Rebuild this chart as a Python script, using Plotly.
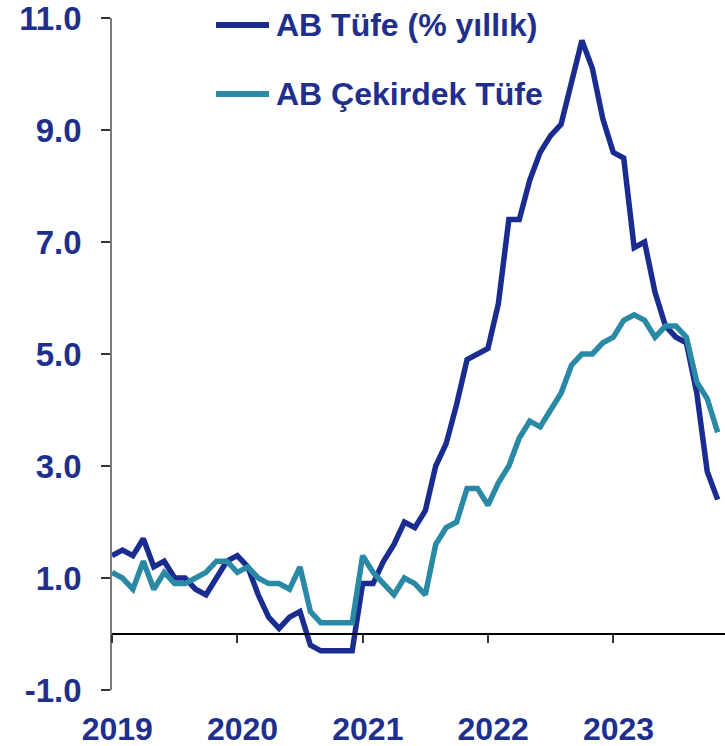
import plotly.graph_objects as go

# Monthly data Jan 2019 – Nov 2023
months = list(range(59))
headline = [1.4, 1.5, 1.4, 1.7, 1.2, 1.3, 1.0, 1.0, 0.8, 0.7, 1.0, 1.3,
            1.4, 1.2, 0.7, 0.3, 0.1, 0.3, 0.4, -0.2, -0.3, -0.3, -0.3, -0.3,
            0.9, 0.9, 1.3, 1.6, 2.0, 1.9, 2.2, 3.0, 3.4, 4.1, 4.9, 5.0,
            5.1, 5.9, 7.4, 7.4, 8.1, 8.6, 8.9, 9.1, 9.9, 10.6, 10.1, 9.2,
            8.6, 8.5, 6.9, 7.0, 6.1, 5.5, 5.3, 5.2, 4.3, 2.9, 2.4]
core = [1.1, 1.0, 0.8, 1.3, 0.8, 1.1, 0.9, 0.9, 1.0, 1.1, 1.3, 1.3,
        1.1, 1.2, 1.0, 0.9, 0.9, 0.8, 1.2, 0.4, 0.2, 0.2, 0.2, 0.2,
        1.4, 1.1, 0.9, 0.7, 1.0, 0.9, 0.7, 1.6, 1.9, 2.0, 2.6, 2.6,
        2.3, 2.7, 3.0, 3.5, 3.8, 3.7, 4.0, 4.3, 4.8, 5.0, 5.0, 5.2,
        5.3, 5.6, 5.7, 5.6, 5.3, 5.5, 5.5, 5.3, 4.5, 4.2, 3.6]
series_names = ["AB Tüfe (% yıllık)", "AB Çekirdek Tüfe"]
year_labels = ["2019", "2020", "2021", "2022", "2023"]
year_ticks = [0, 12, 24, 36, 48]
y_ticks = [-1, 1, 3, 5, 7, 9, 11]
y_tick_labels = ["-1.0", "1.0", "3.0", "5.0", "7.0", "9.0", "11.0"]

NAVY = "#1b2c91"
TEAL = "#2a8aa6"
TEXT = "#1e2f8e"
FONT = "Liberation Sans"

W, H = 725, 746
L, R, T, B = 112, 0, 18, 56
PW, PH = W - L - R, H - T - B


def px(x):
    return (x - L) / PW


def py(y):
    return (H - B - y) / PH


xtickfont = dict(family=FONT, size=32, color=TEXT, weight="bold")
ytickfont = dict(family=FONT, size=33, color=TEXT, weight="bold")

fig = go.Figure()
fig.add_trace(go.Scatter(x=months, y=headline, mode="lines", name=series_names[0],
                         line=dict(color=NAVY, width=5.5), showlegend=False))
fig.add_trace(go.Scatter(x=months, y=core, mode="lines", name=series_names[1],
                         line=dict(color=TEAL, width=5.5), showlegend=False))

fig.update_layout(
    width=W, height=H,
    margin=dict(l=L, r=R, t=T, b=B, pad=0, autoexpand=False),
    paper_bgcolor="white", plot_bgcolor="white",
    font=dict(family=FONT, color=TEXT, size=32),
    xaxis=dict(range=[0, 58.7], tickvals=[v + 0.5 for v in year_ticks], ticktext=year_labels,
               showline=False, ticks="", showgrid=False, zeroline=False, automargin=False,
               tickfont=xtickfont, ticklabelstandoff=17, ticklabeloverflow="allow"),
    xaxis2=dict(range=[0, 58.7], overlaying="x", anchor="free", position=1 / 12,
                tickvals=year_ticks, showticklabels=False, showline=True,
                linecolor="black", linewidth=1.5, ticks="outside", ticklen=8,
                tickcolor="#333333", tickwidth=1.5, showgrid=False, zeroline=False,
                automargin=False),
    yaxis=dict(range=[-1, 11], tickvals=y_ticks, ticktext=y_tick_labels,
               showline=True, linecolor="#7a7a7a", linewidth=1.5,
               ticks="outside", ticklen=9, tickcolor="#333333", tickwidth=1.5,
               showgrid=False, zeroline=False, automargin=False,
               tickfont=ytickfont, ticklabelstandoff=13, ticklabeloverflow="allow"),
)
# invisible trace to activate the zero-line axis
fig.add_trace(go.Scatter(x=[0], y=[0], xaxis="x2", mode="markers",
                         marker=dict(opacity=0), showlegend=False, hoverinfo="skip"))

# manual legend
legend_rows = [(25, NAVY, series_names[0]), (94, TEAL, series_names[1])]
for ypix, col, name in legend_rows:
    fig.add_shape(type="line", xref="paper", yref="paper",
                  x0=px(216), x1=px(269), y0=py(ypix), y1=py(ypix),
                  line=dict(color=col, width=6))
    fig.add_annotation(xref="paper", yref="paper", x=px(274), y=py(ypix),
                       xanchor="left", yanchor="middle", showarrow=False,
                       text="<b>" + name + "</b>",
                       font=dict(family=FONT, size=32, color=TEXT))

fig.write_html("out.html", config={"displayModeBar": False},
               post_script="document.body.style.margin='0';document.body.style.overflow='hidden';")
